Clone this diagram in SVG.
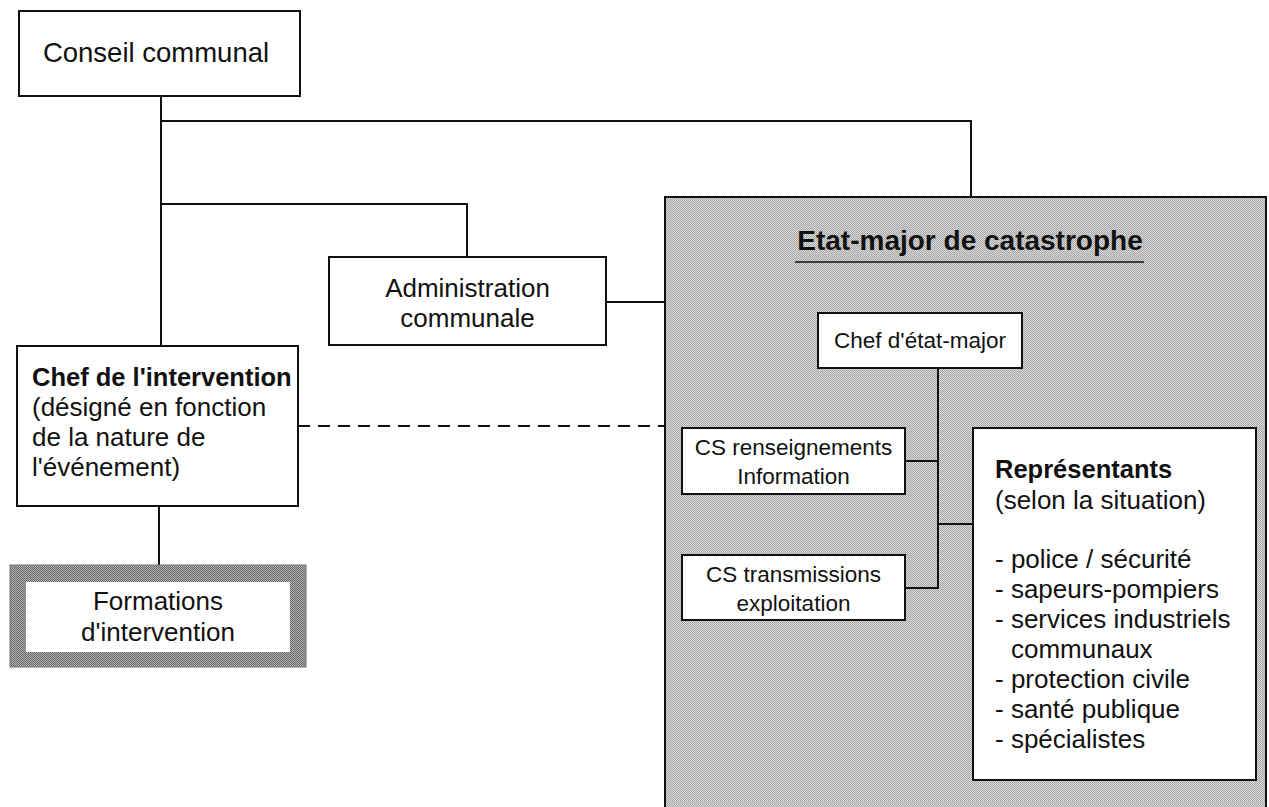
<svg xmlns="http://www.w3.org/2000/svg" width="1269" height="807" viewBox="0 0 1269 807">
<style>
text{font-family:"Liberation Sans",Arial,sans-serif;fill:#111;}
.box{fill:#fff;stroke:#111;stroke-width:2;}
.ln{fill:none;stroke:#111;stroke-width:2;}
.c{text-anchor:middle;}
.b{font-weight:bold;}
.f26{font-size:26px;}
.f22{font-size:22.5px;}
</style>
<defs>
<pattern id="ht" width="2" height="2" patternUnits="userSpaceOnUse">
<rect width="2" height="2" fill="#dcdcdc"/>
<rect width="1" height="1" fill="#a4a4a4"/>
<rect x="1" y="1" width="1" height="1" fill="#a4a4a4"/>
</pattern>
<pattern id="ht2" width="2" height="2" patternUnits="userSpaceOnUse">
<rect width="2" height="2" fill="#b0b0b0"/>
<rect width="1" height="1" fill="#6a6a6a"/>
<rect x="1" y="1" width="1" height="1" fill="#6a6a6a"/>
</pattern>
</defs>
<rect width="1269" height="807" fill="#fff"/>

<g id="etat-major">
<rect x="665" y="197" width="601" height="630" fill="url(#ht)" stroke="#111" stroke-width="2"/>
<text x="970" y="250" class="c b" font-size="28">Etat-major de catastrophe</text>
<line x1="795" y1="262" x2="1144" y2="262" stroke="#111" stroke-width="1.5"/>
</g>

<g id="connectors">
<polyline class="ln" points="161,96 161,346"/>
<polyline class="ln" points="161,121 971,121 971,197"/>
<polyline class="ln" points="161,204 467,204 467,257"/>
<line class="ln" x1="606" y1="302" x2="665" y2="302"/>
<line x1="298" y1="426" x2="665" y2="426" stroke="#111" stroke-width="2" stroke-dasharray="12,8"/>
<line class="ln" x1="159" y1="506" x2="159" y2="565"/>
<polyline class="ln" points="938,368 938,588 905,588"/>
<line class="ln" x1="905" y1="461" x2="938" y2="461"/>
<line class="ln" x1="938" y1="524" x2="973" y2="524"/>
</g>

<g id="conseil">
<rect class="box" x="19" y="11" width="281" height="85"/>
<text x="156" y="62" class="c" font-size="27.5">Conseil communal</text>
</g>

<g id="administration">
<rect class="box" x="329" y="257" width="277" height="88"/>
<text x="467.5" y="297" class="c f26">Administration</text>
<text x="467.5" y="327" class="c f26">communale</text>
</g>

<g id="chef-intervention">
<rect class="box" x="17" y="346" width="281" height="160"/>
<text x="32" y="386" class="b" font-size="25.5">Chef de l'intervention</text>
<text x="32" y="416" class="f26">(désigné en fonction</text>
<text x="32" y="446" class="f26">de la nature de</text>
<text x="32" y="476" class="f26">l'événement)</text>
</g>

<g id="formations">
<rect x="10" y="565" width="296" height="102" fill="url(#ht2)" stroke="#777" stroke-width="1"/>
<rect x="26" y="582" width="264" height="70" fill="#fff"/>
<text x="158" y="610" class="c f26">Formations</text>
<text x="158" y="641" class="c f26">d'intervention</text>
</g>

<g id="chef-etat-major">
<rect class="box" x="818" y="313" width="204" height="55"/>
<text x="920" y="348" class="c f22">Chef d'état-major</text>
</g>

<g id="cs-renseignements">
<rect class="box" x="682" y="428" width="223" height="66"/>
<text x="793.5" y="455" class="c f22">CS renseignements</text>
<text x="793.5" y="484" class="c f22">Information</text>
</g>

<g id="cs-transmissions">
<rect class="box" x="682" y="555" width="223" height="65"/>
<text x="793.5" y="582" class="c f22">CS transmissions</text>
<text x="793.5" y="611" class="c f22">exploitation</text>
</g>

<g id="representants">
<rect class="box" x="973" y="428" width="283" height="352"/>
<text x="995" y="478" class="b" font-size="25.5">Représentants</text>
<text x="995" y="509" class="f26">(selon la situation)</text>
<text x="995" y="568" class="f26">- police / sécurité</text>
<text x="995" y="598" class="f26">- sapeurs-pompiers</text>
<text x="995" y="628" class="f26">- services industriels</text>
<text x="1011" y="658" class="f26">communaux</text>
<text x="995" y="688" class="f26">- protection civile</text>
<text x="995" y="718" class="f26">- santé publique</text>
<text x="995" y="748" class="f26">- spécialistes</text>
</g>
</svg>
